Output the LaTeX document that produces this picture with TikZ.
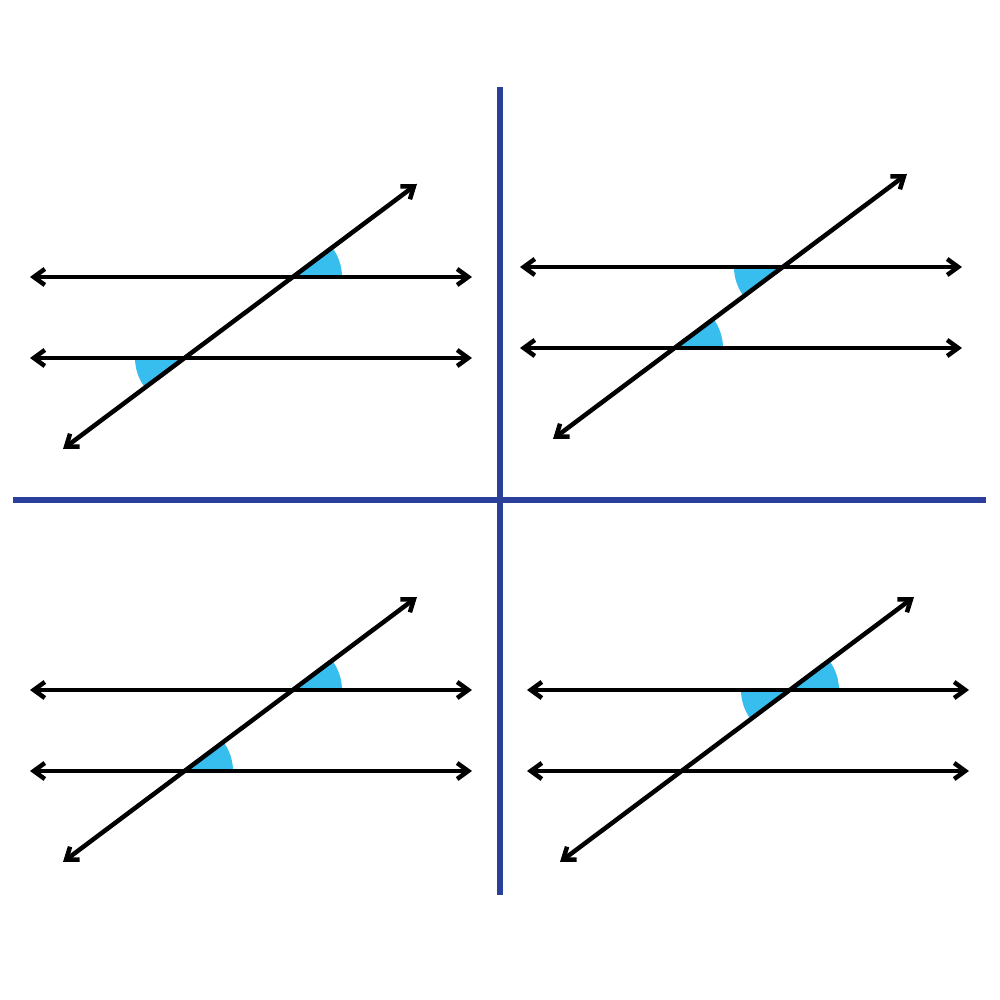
\documentclass[tikz,border=0pt]{standalone}
\usetikzlibrary{arrows.meta}

\definecolor{divblue}{RGB}{42,63,153}
\definecolor{angcyan}{RGB}{56,190,238}

\tikzset{
  parline/.style={line width=0.045cm, {Straight Barb[length=1.1mm,width=1.6mm]}-{Straight Barb[length=1.1mm,width=1.6mm]}},
  divider/.style={divblue, line width=0.06cm},
  anglefill/.style={fill=angcyan}
}

% the two parallels and the transversal of one panel
\newcommand{\panelpoints}{
  \coordinate (tl) at (30,723); \coordinate (tr) at (472,723);
  \coordinate (bl) at (30,642); \coordinate (br) at (472,642);
  \coordinate (ts) at (63,551); \coordinate (te) at (417,816);
  \coordinate (xt) at (293,723); \coordinate (xb) at (184,642);
}
\newcommand{\panellines}{
  \draw[parline] (tl) -- (tr);
  \draw[parline] (bl) -- (br);
  \draw[parline] (ts) -- (te);
}

\begin{document}
\begin{tikzpicture}[x=0.01cm, y=0.01cm]
\useasboundingbox (0,0) rectangle (1000,1000);

\coordinate (vtop) at (500,913);
\coordinate (vbot) at (500,105);
\coordinate (hleft) at (13,500);
\coordinate (hright) at (986,500);
\draw[divider] (vtop) -- (vbot);
\draw[divider] (hleft) -- (hright);

% top left
\begin{scope}
\panelpoints
\fill[anglefill] (xt) -- ++(0:49) arc[start angle=0, end angle=36.8, radius=49] -- cycle;
\fill[anglefill] (xb) -- ++(180:49) arc[start angle=180, end angle=216.8, radius=49] -- cycle;
\panellines
\end{scope}

% top right
\begin{scope}[shift={(490,10)}]
\panelpoints
\fill[anglefill] (xt) -- ++(180:49) arc[start angle=180, end angle=216.8, radius=49] -- cycle;
\fill[anglefill] (xb) -- ++(0:49) arc[start angle=0, end angle=36.8, radius=49] -- cycle;
\panellines
\end{scope}

% bottom left
\begin{scope}[shift={(0,-413)}]
\panelpoints
\fill[anglefill] (xt) -- ++(0:49) arc[start angle=0, end angle=36.8, radius=49] -- cycle;
\fill[anglefill] (xb) -- ++(0:49) arc[start angle=0, end angle=36.8, radius=49] -- cycle;
\panellines
\end{scope}

% bottom right
\begin{scope}[shift={(497,-413)}]
\panelpoints
\fill[anglefill] (xt) -- ++(0:49) arc[start angle=0, end angle=36.8, radius=49] -- cycle;
\fill[anglefill] (xt) -- ++(180:49) arc[start angle=180, end angle=216.8, radius=49] -- cycle;
\panellines
\end{scope}

\end{tikzpicture}
\end{document}
